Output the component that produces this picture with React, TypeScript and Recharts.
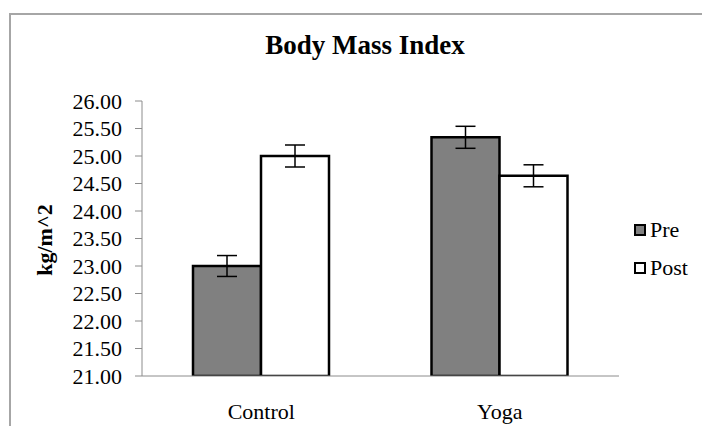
import { Bar, BarChart, ErrorBar, XAxis, YAxis } from 'recharts';

const categories = ['Control', 'Yoga'];
const preValues = [23.0, 25.34];
const postValues = [25.0, 24.64];
const preErrors = [0.19, 0.2];
const postErrors = [0.2, 0.2];
const yTicks = [21, 21.5, 22, 22.5, 23, 23.5, 24, 24.5, 25, 25.5, 26];
const seriesNames = ['Pre', 'Post'];
const seriesFills = ['#808080', '#ffffff'];

const FONT = '"Liberation Serif", "Times New Roman", serif';

const data = categories.map((name, i) => ({
  name,
  pre: preValues[i],
  post: postValues[i],
  preErr: preErrors[i],
  postErr: postErrors[i],
}));

function LegendBox() {
  return (
    <div style={{ position: 'absolute', left: 634, top: 211, fontSize: 22, color: '#000' }}>
      {seriesNames.map((label, i) => (
        <div key={label} style={{ display: 'flex', alignItems: 'center', height: 38 }}>
          <span
            style={{
              width: 8,
              height: 8,
              background: seriesFills[i],
              border: '2.5px solid #000',
              marginRight: 4,
            }}
          />
          <span>{label}</span>
        </div>
      ))}
    </div>
  );
}

export default function App() {
  return (
    <div
      style={{
        position: 'absolute',
        left: 0,
        top: 0,
        width: 702,
        height: 426,
        background: '#fff',
        overflow: 'hidden',
        fontFamily: FONT,
      }}
    >
      <div
        style={{
          position: 'absolute',
          left: 9,
          top: 13,
          width: 720,
          height: 440,
          borderLeft: '2px solid #a6a6a6',
          borderTop: '2px solid #a6a6a6',
        }}
      />
      <div
        style={{
          position: 'absolute',
          left: 365,
          top: 32,
          transform: 'translateX(-50%)',
          fontWeight: 'bold',
          fontSize: 27,
          lineHeight: '27px',
          whiteSpace: 'nowrap',
        }}
      >
        Body Mass Index
      </div>
      <div
        style={{
          position: 'absolute',
          left: 45,
          top: 240,
          transform: 'translate(-50%, -50%) rotate(-90deg)',
          fontWeight: 'bold',
          fontSize: 22,
          whiteSpace: 'nowrap',
        }}
      >
        kg/m^2
      </div>
      <div style={{ position: 'absolute', left: 0, top: 0 }}>
        <BarChart
          width={702}
          height={426}
          data={data}
          margin={{ top: 101, right: 83, bottom: 20, left: 0 }}
          barGap={0}
          style={{ fontFamily: FONT }}
        >
          <XAxis
            dataKey="name"
            height={30}
            stroke="#8c8c8c"
            tickLine={false}
            tickSize={0}
            tickMargin={27}
            tick={{ fill: '#000', fontSize: 22, fontFamily: FONT }}
          />
          <YAxis
            width={142}
            domain={[21, 26]}
            ticks={yTicks}
            interval={0}
            allowDataOverflow
            stroke="#8c8c8c"
            tickSize={7}
            tickMargin={13}
            tickFormatter={(v: number) => v.toFixed(2)}
            tick={{ fill: '#000', fontSize: 22, fontFamily: FONT }}
          />
          <Bar dataKey="pre" name="Pre" fill={seriesFills[0]} stroke="#000" strokeWidth={2.5} barSize={68} isAnimationActive={false}>
            <ErrorBar dataKey="preErr" width={10} stroke="#000" strokeWidth={1.5} direction="y" />
          </Bar>
          <Bar dataKey="post" name="Post" fill={seriesFills[1]} stroke="#000" strokeWidth={2.5} barSize={68} isAnimationActive={false}>
            <ErrorBar dataKey="postErr" width={10} stroke="#000" strokeWidth={1.5} direction="y" />
          </Bar>
        </BarChart>
      </div>
      <LegendBox />
    </div>
  );
}
